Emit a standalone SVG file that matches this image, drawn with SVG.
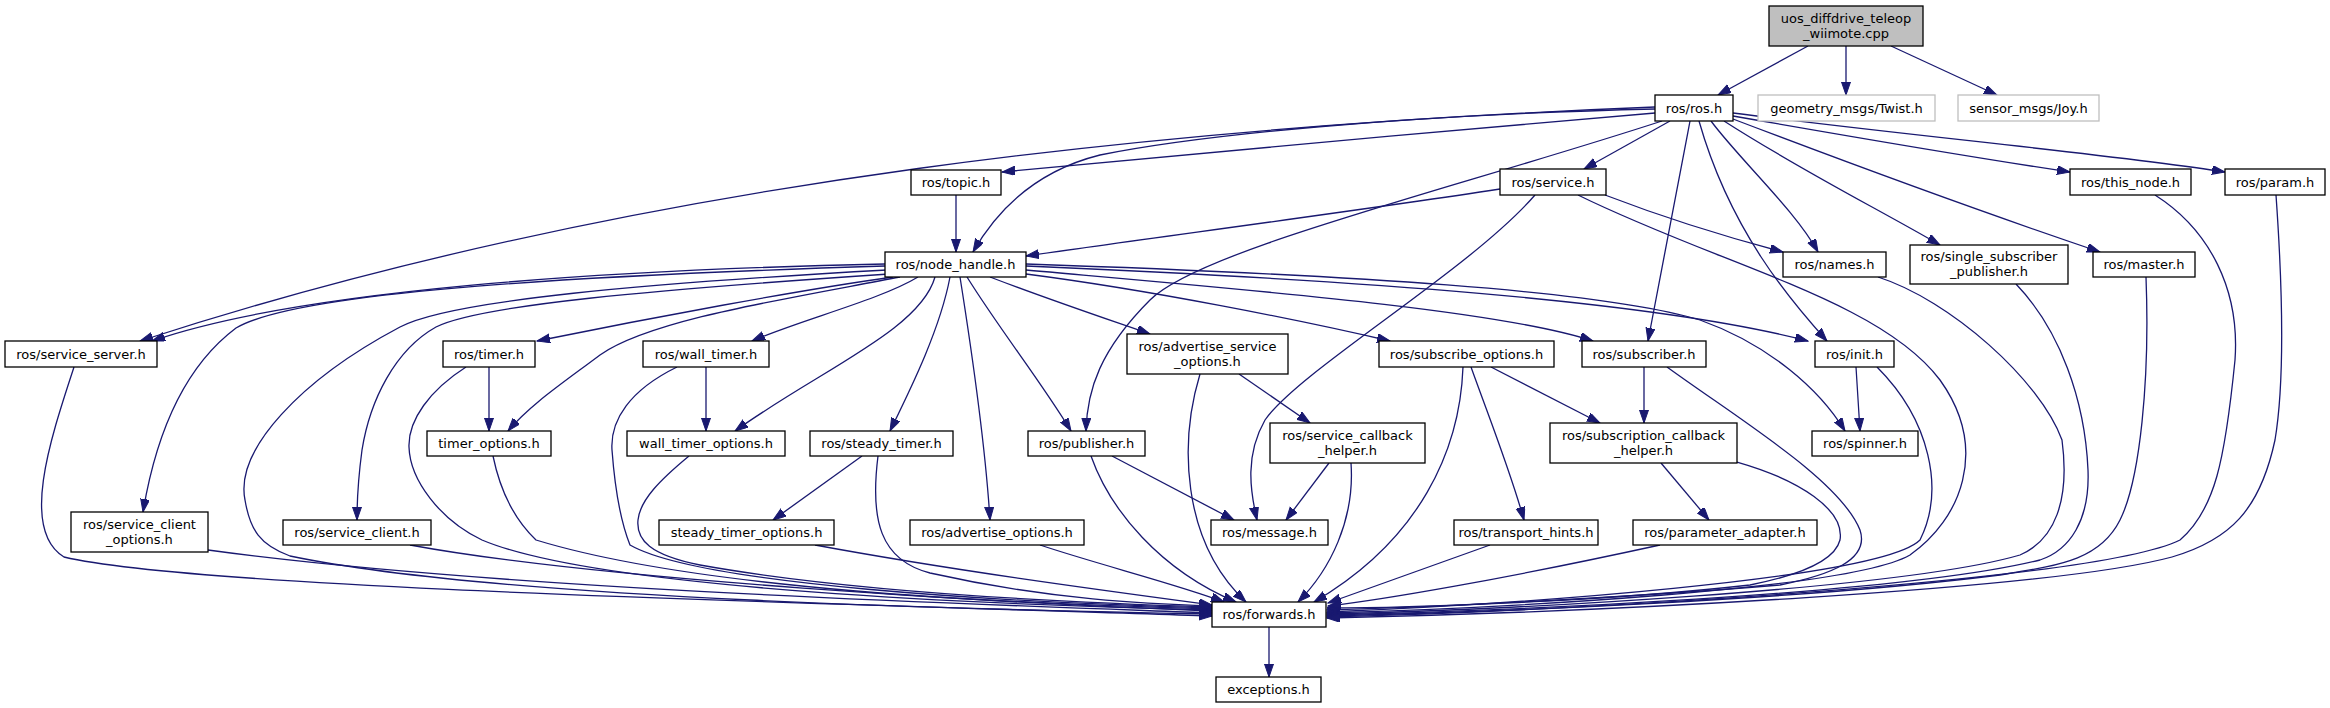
<svg xmlns="http://www.w3.org/2000/svg" width="2330" height="708" viewBox="0 0 2330 708">
<style>
.n rect{fill:#fff;stroke:#000;stroke-width:1.3}
.n.top rect{fill:#bfbfbf}
.n.ext rect{stroke:#bfbfbf}
.n text{font-family:"DejaVu Sans","Liberation Sans",sans-serif;font-size:13px;text-anchor:middle;fill:#000}
#edges path{fill:none;stroke:#191970;stroke-width:1.3;marker-end:url(#arr)}
</style>
<defs>
<marker id="arr" markerUnits="userSpaceOnUse" markerWidth="14" markerHeight="10" refX="13" refY="4.5" orient="auto">
<path d="M0,0 L13,4.5 L0,9 z" fill="#191970" stroke="#191970" stroke-width="1"/>
</marker>
</defs>
<rect width="2330" height="708" fill="#fff"/>
<g id="edges">
<path d="M1808,46 L1718,95"/>
<path d="M1846,46 L1846,95"/>
<path d="M1891,46 L1997,95"/>
<path d="M1655,107 C1200,125 650,175 140,341"/>
<path d="M1655,109 C1400,115 1200,135 1100,155 C1040,170 1000,205 973,252"/>
<path d="M1655,113 C1450,130 1150,158 1002,172"/>
<path d="M1670,121 L1584,169"/>
<path d="M1662,121 C1450,190 1200,250 1150,300 C1100,350 1087,390 1086,431"/>
<path d="M1690,121 C1675,200 1660,280 1648,341"/>
<path d="M1711,121 C1740,160 1795,210 1818,252"/>
<path d="M1699,121 C1730,230 1790,300 1827,341"/>
<path d="M1724,121 C1800,170 1880,210 1940,245"/>
<path d="M1733,119 C1880,175 2020,225 2100,252"/>
<path d="M1733,116 C1870,140 1990,160 2070,172"/>
<path d="M1733,113 C1900,135 2120,155 2225,172"/>
<path d="M1500,189 C1350,212 1150,238 1026,256"/>
<path d="M1605,195 C1670,220 1730,238 1783,252"/>
<path d="M1535,195 C1470,270 1300,370 1265,420 C1245,455 1250,490 1257,520"/>
<path d="M1578,195 C1720,265 1880,300 1940,380 C1990,450 1960,520 1910,555 C1850,590 1500,608 1327,613"/>
<path d="M885,264 C600,270 300,290 152,341"/>
<path d="M885,266 C600,275 300,290 236,328 C180,370 155,440 143,512"/>
<path d="M887,270 C650,283 450,300 400,327 C300,380 235,450 245,500 C250,530 260,545 290,556 C500,600 1000,610 1212,614"/>
<path d="M889,274 C650,290 480,305 436,327 C395,350 370,400 362,450 C358,480 357,500 357,520"/>
<path d="M893,277 C800,290 650,318 537,341"/>
<path d="M900,277 C780,300 650,320 600,355 C560,385 530,405 508,431"/>
<path d="M489,367 L489,431"/>
<path d="M706,367 L706,431"/>
<path d="M918,277 C880,300 800,320 752,341"/>
<path d="M935,277 C920,330 820,370 735,431"/>
<path d="M950,277 C940,330 910,390 890,431"/>
<path d="M960,277 C970,340 985,440 990,520"/>
<path d="M967,277 C1000,330 1040,380 1071,431"/>
<path d="M990,277 C1050,300 1110,320 1150,334"/>
<path d="M1026,274 C1150,290 1300,320 1390,341"/>
<path d="M1026,270 C1250,290 1500,310 1593,341"/>
<path d="M1026,266 C1350,280 1650,300 1808,341"/>
<path d="M1026,264 C1350,275 1600,290 1700,320 C1770,345 1820,390 1845,431"/>
<path d="M956,195 L956,252"/>
<path d="M74,367 C50,440 20,530 64,557 C200,590 900,605 1212,616"/>
<path d="M208,550 C500,590 1000,605 1212,613"/>
<path d="M410,545 C600,580 1000,603 1212,611"/>
<path d="M466,367 C430,390 408,420 409,447 C410,480 440,520 482,540 C600,590 1000,605 1212,610"/>
<path d="M493,456 C500,490 515,520 536,540 C700,590 1000,603 1212,609"/>
<path d="M677,367 C630,390 610,420 612,450 C615,490 620,520 630,545 C700,585 1000,602 1212,608"/>
<path d="M689,456 C660,480 640,500 638,520 C636,540 650,555 700,565 C850,592 1050,602 1212,607"/>
<path d="M862,456 L773,520"/>
<path d="M878,456 C870,520 880,560 930,573 C1050,600 1150,604 1212,606"/>
<path d="M815,545 C950,570 1100,590 1212,605"/>
<path d="M1040,545 C1100,565 1180,585 1224,602"/>
<path d="M1112,456 L1234,520"/>
<path d="M1091,456 C1110,510 1160,570 1236,602"/>
<path d="M1239,374 L1310,423"/>
<path d="M1200,374 C1180,440 1180,540 1246,602"/>
<path d="M1329,463 L1286,520"/>
<path d="M1351,463 C1355,520 1330,570 1298,602"/>
<path d="M1491,367 L1600,423"/>
<path d="M1471,367 C1490,420 1510,470 1524,520"/>
<path d="M1463,367 C1460,450 1420,540 1314,602"/>
<path d="M1644,367 L1644,423"/>
<path d="M1667,367 C1740,420 1840,480 1860,530 C1870,560 1830,575 1780,585 C1600,600 1400,608 1327,610"/>
<path d="M1856,367 L1860,431"/>
<path d="M1877,367 C1930,420 1945,490 1920,540 C1880,580 1500,605 1327,612"/>
<path d="M1661,463 L1709,520"/>
<path d="M1737,462 C1800,480 1845,510 1840,540 C1835,560 1800,575 1750,585 C1600,602 1400,608 1327,608"/>
<path d="M1490,545 L1328,603"/>
<path d="M1660,545 C1500,580 1380,600 1328,606"/>
<path d="M1878,277 C1950,300 2040,380 2062,440 C2070,500 2055,540 2020,555 C1900,590 1500,610 1327,614"/>
<path d="M2016,284 C2060,330 2085,400 2088,470 C2090,520 2070,550 2040,560 C1900,595 1500,611 1327,615"/>
<path d="M2146,277 C2150,380 2140,480 2120,520 C2100,560 2060,565 2000,575 C1800,600 1500,612 1327,616"/>
<path d="M2155,195 C2210,230 2240,290 2235,360 C2225,460 2215,510 2180,540 C2100,580 1600,610 1327,617"/>
<path d="M2276,195 C2282,280 2285,380 2275,440 C2260,510 2230,540 2172,557 C2050,590 1600,612 1327,618"/>
<path d="M1269,627 L1269,677"/>
</g>
<g id="n_top" class="n top"><rect x="1769" y="6" width="154" height="40"/><text x="1846" y="22.5">uos_diffdrive_teleop</text><text x="1846" y="37.5">_wiimote.cpp</text></g>
<g id="n_ros" class="n"><rect x="1655" y="95" width="78" height="26"/><text x="1694" y="112.5">ros/ros.h</text></g>
<g id="n_twist" class="n ext"><rect x="1758" y="95" width="177" height="26"/><text x="1846.5" y="112.5">geometry_msgs/Twist.h</text></g>
<g id="n_joy" class="n ext"><rect x="1958" y="95" width="141" height="26"/><text x="2028.5" y="112.5">sensor_msgs/Joy.h</text></g>
<g id="n_topic" class="n"><rect x="911" y="170" width="90" height="25"/><text x="956" y="187">ros/topic.h</text></g>
<g id="n_service" class="n"><rect x="1500" y="169" width="106" height="26"/><text x="1553" y="186.5">ros/service.h</text></g>
<g id="n_this_node" class="n"><rect x="2070" y="169" width="121" height="26"/><text x="2130.5" y="186.5">ros/this_node.h</text></g>
<g id="n_param" class="n"><rect x="2225" y="169" width="100" height="26"/><text x="2275" y="186.5">ros/param.h</text></g>
<g id="n_node_handle" class="n"><rect x="885" y="252" width="141" height="25"/><text x="955.5" y="269">ros/node_handle.h</text></g>
<g id="n_names" class="n"><rect x="1783" y="252" width="103" height="25"/><text x="1834.5" y="269">ros/names.h</text></g>
<g id="n_single_sub" class="n"><rect x="1910" y="245" width="158" height="39"/><text x="1989" y="261">ros/single_subscriber</text><text x="1989" y="276">_publisher.h</text></g>
<g id="n_master" class="n"><rect x="2093" y="252" width="102" height="25"/><text x="2144" y="269">ros/master.h</text></g>
<g id="n_service_server" class="n"><rect x="5" y="341" width="152" height="26"/><text x="81" y="358.5">ros/service_server.h</text></g>
<g id="n_timer" class="n"><rect x="443" y="341" width="92" height="26"/><text x="489" y="358.5">ros/timer.h</text></g>
<g id="n_wall_timer" class="n"><rect x="643" y="341" width="126" height="26"/><text x="706" y="358.5">ros/wall_timer.h</text></g>
<g id="n_adv_svc_opt" class="n"><rect x="1127" y="334" width="161" height="40"/><text x="1207.5" y="350.5">ros/advertise_service</text><text x="1207.5" y="365.5">_options.h</text></g>
<g id="n_subscribe_options" class="n"><rect x="1379" y="341" width="175" height="26"/><text x="1466.5" y="358.5">ros/subscribe_options.h</text></g>
<g id="n_subscriber" class="n"><rect x="1582" y="341" width="124" height="26"/><text x="1644" y="358.5">ros/subscriber.h</text></g>
<g id="n_init" class="n"><rect x="1815" y="341" width="79" height="26"/><text x="1854.5" y="358.5">ros/init.h</text></g>
<g id="n_timer_options" class="n"><rect x="427" y="431" width="124" height="25"/><text x="489" y="448">timer_options.h</text></g>
<g id="n_wall_timer_options" class="n"><rect x="627" y="431" width="158" height="25"/><text x="706" y="448">wall_timer_options.h</text></g>
<g id="n_steady_timer" class="n"><rect x="810" y="431" width="143" height="25"/><text x="881.5" y="448">ros/steady_timer.h</text></g>
<g id="n_publisher" class="n"><rect x="1028" y="431" width="117" height="25"/><text x="1086.5" y="448">ros/publisher.h</text></g>
<g id="n_svc_cb_helper" class="n"><rect x="1270" y="423" width="155" height="40"/><text x="1347.5" y="439.5">ros/service_callback</text><text x="1347.5" y="454.5">_helper.h</text></g>
<g id="n_sub_cb_helper" class="n"><rect x="1550" y="423" width="187" height="40"/><text x="1643.5" y="439.5">ros/subscription_callback</text><text x="1643.5" y="454.5">_helper.h</text></g>
<g id="n_spinner" class="n"><rect x="1812" y="431" width="106" height="25"/><text x="1865" y="448">ros/spinner.h</text></g>
<g id="n_svc_client_opt" class="n"><rect x="71" y="512" width="137" height="40"/><text x="139.5" y="528.5">ros/service_client</text><text x="139.5" y="543.5">_options.h</text></g>
<g id="n_service_client" class="n"><rect x="283" y="520" width="148" height="25"/><text x="357" y="537">ros/service_client.h</text></g>
<g id="n_steady_timer_options" class="n"><rect x="659" y="520" width="175" height="25"/><text x="746.5" y="537">steady_timer_options.h</text></g>
<g id="n_advertise_options" class="n"><rect x="910" y="520" width="174" height="25"/><text x="997" y="537">ros/advertise_options.h</text></g>
<g id="n_message" class="n"><rect x="1211" y="520" width="117" height="25"/><text x="1269.5" y="537">ros/message.h</text></g>
<g id="n_transport_hints" class="n"><rect x="1454" y="520" width="144" height="25"/><text x="1526" y="537">ros/transport_hints.h</text></g>
<g id="n_parameter_adapter" class="n"><rect x="1633" y="520" width="184" height="25"/><text x="1725" y="537">ros/parameter_adapter.h</text></g>
<g id="n_forwards" class="n"><rect x="1212" y="602" width="114" height="25"/><text x="1269" y="619">ros/forwards.h</text></g>
<g id="n_exceptions" class="n"><rect x="1216" y="677" width="105" height="25"/><text x="1268.5" y="694">exceptions.h</text></g>
</svg>
